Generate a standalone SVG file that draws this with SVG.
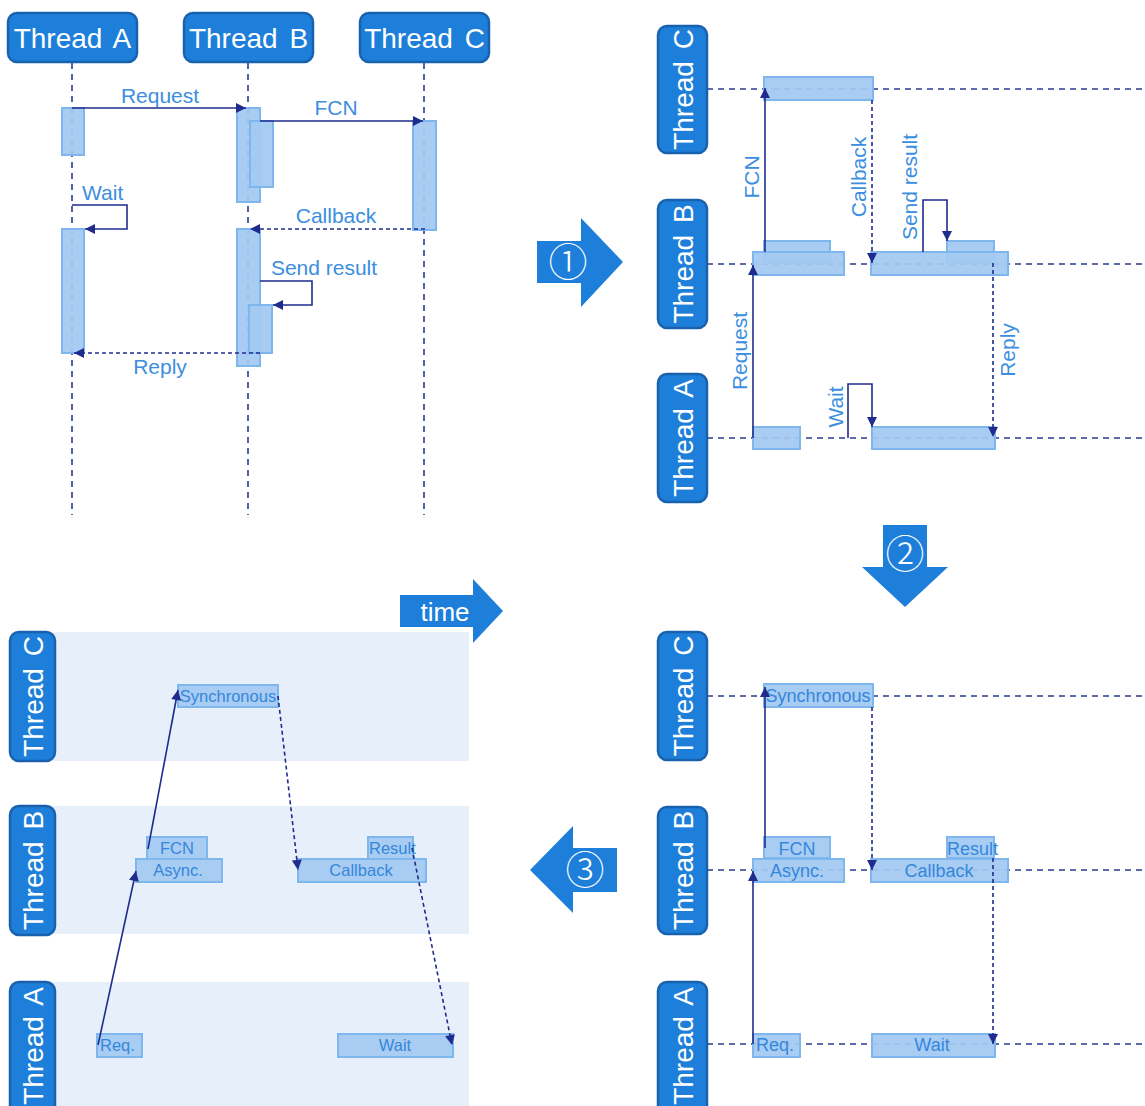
<svg xmlns="http://www.w3.org/2000/svg" width="1145" height="1106" viewBox="0 0 1145 1106">
<style>
.hdr{fill:#1e7fda;stroke:#1862ad;stroke-width:2.5}
.ht{font-family:"Liberation Sans",Arial,sans-serif;font-size:28px;fill:#ffffff;text-anchor:middle;word-spacing:4px}
.life{stroke:#2b3a8e;stroke-width:1.6;stroke-dasharray:6,5;fill:none}
.bar{fill:#a2c9f1;stroke:#7db7ee;stroke-width:2;fill-opacity:0.93}
.band{fill:#e7f0fa}
.arr{stroke:#1f2c8e;stroke-width:1.6;fill:none}
.darr{stroke:#1f2c8e;stroke-width:1.6;fill:none;stroke-dasharray:4,3}
.lbl{font-family:"Liberation Sans",Arial,sans-serif;font-size:21px;fill:#3b8ee0;text-anchor:middle}
.bt{font-family:"Liberation Sans",Arial,sans-serif;font-size:18px;fill:#3487dc;text-anchor:middle}
.bs{font-family:"Liberation Sans",Arial,sans-serif;font-size:16.5px;fill:#3487dc;text-anchor:middle}
.st{text-anchor:start}
.big{fill:#1e7fda}
.num{font-family:"Noto Sans CJK JP","DejaVu Sans",sans-serif;font-size:39px;font-weight:300;fill:#ffffff;text-anchor:middle}
</style>
<defs>
<marker id="ah" viewBox="0 0 10 10" refX="10" refY="5" markerWidth="11" markerHeight="10" markerUnits="userSpaceOnUse" orient="auto">
<path d="M0,0 L10,5 L0,10 Z" fill="#1f2c8e"/>
</marker>
</defs>

<!-- ===== Top-left: sequence diagram ===== -->
<g id="seq-lifelines">
<line class="life" x1="72" y1="63" x2="72" y2="515"/>
<line class="life" x1="248" y1="63" x2="248" y2="515"/>
<line class="life" x1="424" y1="63" x2="424" y2="515"/>
</g>
<g id="seq-threadA"><rect class="hdr" x="8" y="13" width="129" height="49" rx="9"/><text class="ht" x="72.5" y="48">Thread A</text></g>
<g id="seq-threadB"><rect class="hdr" x="184" y="13" width="129" height="49" rx="9"/><text class="ht" x="248.5" y="48">Thread B</text></g>
<g id="seq-threadC"><rect class="hdr" x="360" y="13" width="129" height="49" rx="9"/><text class="ht" x="424.5" y="48">Thread C</text></g>
<g id="seq-activations">
<rect class="bar" x="62" y="108" width="22" height="47"/>
<rect class="bar" x="237" y="108" width="23" height="94"/>
<rect class="bar" x="250" y="121" width="23" height="66"/>
<rect class="bar" x="413" y="121" width="23" height="109"/>
<rect class="bar" x="62" y="229" width="22" height="124"/>
<rect class="bar" x="237" y="229" width="23" height="137"/>
<rect class="bar" x="249" y="305" width="23" height="48"/>
</g>
<g id="seq-connectors">
<line class="arr" x1="72" y1="108" x2="246" y2="108" marker-end="url(#ah)"/>
<line class="arr" x1="260" y1="121" x2="423" y2="121" marker-end="url(#ah)"/>
<polyline class="arr" points="72,205 127,205 127,229 85,229" marker-end="url(#ah)"/>
<line class="darr" x1="425" y1="229" x2="250" y2="229" marker-end="url(#ah)"/>
<polyline class="arr" points="260,281 312,281 312,305 273,305" marker-end="url(#ah)"/>
<line class="darr" x1="260" y1="353" x2="74" y2="353" marker-end="url(#ah)"/>
</g>
<g id="seq-labels">
<text class="lbl" x="160" y="103">Request</text>
<text class="lbl" x="336" y="115">FCN</text>
<text class="lbl st" x="82" y="200">Wait</text>
<text class="lbl" x="336" y="223">Callback</text>
<text class="lbl" x="324" y="275">Send result</text>
<text class="lbl" x="160" y="374">Reply</text>
</g>

<!-- ===== Step arrows ===== -->
<g id="step1"><path class="big" d="M537,241 L581,241 L581,218 L623,262 L581,307 L581,283 L537,283 Z"/><text class="num" x="568" y="276">①</text></g>
<g id="step2"><path class="big" d="M883,525 L927,525 L927,567 L948,567 L905,607 L862,567 L883,567 Z"/><text class="num" x="905" y="568">②</text></g>
<g id="step3"><path class="big" d="M617,848 L617,892 L573,892 L573,913 L530,870 L573,826 L573,848 Z"/><text class="num" x="585" y="884">③</text></g>
<g id="time-arrow"><path class="big" d="M400,595 L473,595 L473,579 L503,611 L473,643 L473,627 L400,627 Z"/><text x="445" y="621" font-family="Liberation Sans,Arial,sans-serif" font-size="26" fill="#ffffff" text-anchor="middle">time</text></g>

<!-- ===== Top-right: timeline ===== -->
<g id="tl1-lines">
<line class="life" x1="707" y1="89" x2="1145" y2="89"/>
<line class="life" x1="707" y1="264" x2="1145" y2="264"/>
<line class="life" x1="707" y1="438" x2="1145" y2="438"/>
</g>
<g id="tl1-threadC"><rect class="hdr" x="658" y="26" width="49" height="127" rx="9"/><text class="ht" transform="translate(692.5,89.5) rotate(-90)">Thread C</text></g>
<g id="tl1-threadB"><rect class="hdr" x="658" y="200" width="49" height="128" rx="9"/><text class="ht" transform="translate(692.5,264) rotate(-90)">Thread B</text></g>
<g id="tl1-threadA"><rect class="hdr" x="658" y="374" width="49" height="128" rx="9"/><text class="ht" transform="translate(692.5,438) rotate(-90)">Thread A</text></g>
<g id="tl1-bars">
<rect class="bar" x="764" y="77" width="109" height="23"/>
<rect class="bar" x="764" y="241" width="66" height="22"/>
<rect class="bar" x="753" y="252" width="91" height="23"/>
<rect class="bar" x="947" y="241" width="47" height="22"/>
<rect class="bar" x="871" y="252" width="137" height="23"/>
<rect class="bar" x="753" y="427" width="47" height="22"/>
<rect class="bar" x="872" y="427" width="123" height="22"/>
</g>
<g id="tl1-connectors">
<line class="arr" x1="765" y1="252" x2="765" y2="88" marker-end="url(#ah)"/>
<line class="darr" x1="872" y1="100" x2="872" y2="263" marker-end="url(#ah)"/>
<polyline class="arr" points="923,252 923,200 947,200 947,241" marker-end="url(#ah)"/>
<line class="darr" x1="993" y1="263" x2="993" y2="437" marker-end="url(#ah)"/>
<line class="arr" x1="753" y1="438" x2="753" y2="265" marker-end="url(#ah)"/>
<polyline class="arr" points="848,438 848,384 872,384 872,427" marker-end="url(#ah)"/>
</g>
<g id="tl1-labels">
<text class="lbl" transform="translate(759,177) rotate(-90)">FCN</text>
<text class="lbl" transform="translate(866,177) rotate(-90)">Callback</text>
<text class="lbl" transform="translate(917,187) rotate(-90)">Send result</text>
<text class="lbl" transform="translate(747,351) rotate(-90)">Request</text>
<text class="lbl" transform="translate(1015,350) rotate(-90)">Reply</text>
<text class="lbl" transform="translate(843,407) rotate(-90)">Wait</text>
</g>

<!-- ===== Bottom-right: labelled timeline ===== -->
<g id="tl2-lines">
<line class="life" x1="707" y1="696" x2="1145" y2="696"/>
<line class="life" x1="707" y1="870" x2="1145" y2="870"/>
<line class="life" x1="707" y1="1044" x2="1145" y2="1044"/>
</g>
<g id="tl2-threadC"><rect class="hdr" x="658" y="632" width="49" height="128" rx="9"/><text class="ht" transform="translate(692.5,696) rotate(-90)">Thread C</text></g>
<g id="tl2-threadB"><rect class="hdr" x="658" y="807" width="49" height="127" rx="9"/><text class="ht" transform="translate(692.5,870.5) rotate(-90)">Thread B</text></g>
<g id="tl2-threadA"><rect class="hdr" x="658" y="982" width="49" height="134" rx="9"/><text class="ht" transform="translate(692.5,1046) rotate(-90)">Thread A</text></g>
<g id="tl2-bars">
<g id="tl2-sync"><rect class="bar" x="764" y="684" width="109" height="23"/><text class="bt" x="818" y="702">Synchronous</text></g>
<g id="tl2-fcn"><rect class="bar" x="764" y="837" width="66" height="21"/><text class="bt" x="797" y="855">FCN</text></g>
<g id="tl2-async"><rect class="bar" x="753" y="859" width="91" height="23"/><text class="bt" x="797" y="877">Async.</text></g>
<g id="tl2-result"><rect class="bar" x="947" y="837" width="47" height="21"/><text class="bt st" x="947" y="855">Result</text></g>
<g id="tl2-callback"><rect class="bar" x="871" y="859" width="137" height="23"/><text class="bt" x="939" y="877">Callback</text></g>
<g id="tl2-req"><rect class="bar" x="753" y="1034" width="47" height="23"/><text class="bt st" x="756" y="1051">Req.</text></g>
<g id="tl2-wait"><rect class="bar" x="872" y="1034" width="123" height="23"/><text class="bt" x="932" y="1051">Wait</text></g>
</g>
<g id="tl2-connectors">
<line class="arr" x1="765" y1="848" x2="765" y2="687" marker-end="url(#ah)"/>
<line class="darr" x1="872" y1="707" x2="872" y2="870" marker-end="url(#ah)"/>
<line class="darr" x1="993" y1="858" x2="993" y2="1044" marker-end="url(#ah)"/>
<line class="arr" x1="753" y1="1044" x2="753" y2="871" marker-end="url(#ah)"/>
</g>

<!-- ===== Bottom-left: skewed timeline ===== -->
<g id="tl3-bands">
<rect class="band" x="12" y="632" width="457" height="129"/>
<rect class="band" x="12" y="806" width="457" height="128"/>
<rect class="band" x="12" y="982" width="457" height="124"/>
</g>
<g id="tl3-threadC"><rect class="hdr" x="10" y="632" width="45" height="129" rx="9"/><text class="ht" transform="translate(42.5,696.5) rotate(-90)">Thread C</text></g>
<g id="tl3-threadB"><rect class="hdr" x="10" y="806" width="45" height="129" rx="9"/><text class="ht" transform="translate(42.5,870.5) rotate(-90)">Thread B</text></g>
<g id="tl3-threadA"><rect class="hdr" x="10" y="982" width="45" height="134" rx="9"/><text class="ht" transform="translate(42.5,1046) rotate(-90)">Thread A</text></g>
<g id="tl3-bars">
<g id="tl3-sync"><rect class="bar" x="178" y="685" width="100" height="22"/><text class="bs" x="228" y="702">Synchronous</text></g>
<g id="tl3-fcn"><rect class="bar" x="147" y="837" width="60" height="22"/><text class="bs" x="177" y="854">FCN</text></g>
<g id="tl3-async"><rect class="bar" x="136" y="859" width="86" height="23"/><text class="bs" x="178" y="876">Async.</text></g>
<g id="tl3-result"><rect class="bar" x="368" y="837" width="45" height="22"/><text class="bs st" x="369" y="854">Result</text></g>
<g id="tl3-callback"><rect class="bar" x="298" y="859" width="128" height="23"/><text class="bs" x="361" y="876">Callback</text></g>
<g id="tl3-req"><rect class="bar" x="97" y="1034" width="45" height="23"/><text class="bs st" x="100" y="1051">Req.</text></g>
<g id="tl3-wait"><rect class="bar" x="338" y="1034" width="115" height="23"/><text class="bs" x="395" y="1051">Wait</text></g>
</g>
<g id="tl3-connectors">
<line class="arr" x1="98" y1="1045" x2="136" y2="871" marker-end="url(#ah)"/>
<line class="arr" x1="148" y1="849" x2="178" y2="690" marker-end="url(#ah)"/>
<line class="darr" x1="278" y1="696" x2="298" y2="870" marker-end="url(#ah)"/>
<line class="darr" x1="412" y1="848" x2="452" y2="1045" marker-end="url(#ah)"/>
</g>
</svg>
